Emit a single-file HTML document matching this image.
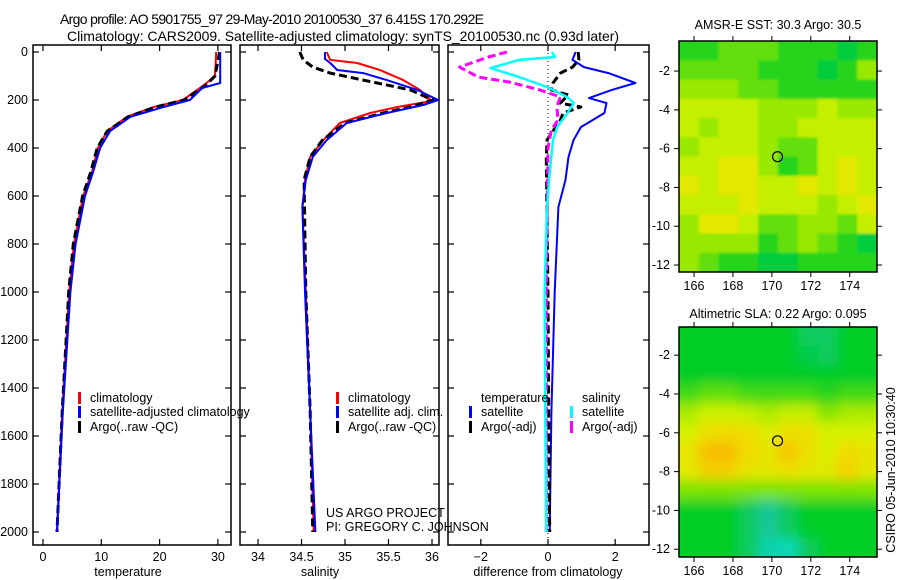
<!DOCTYPE html>
<html><head><meta charset="utf-8"><style>
html,body{margin:0;padding:0;background:#fff}
svg{display:block;font-family:"Liberation Sans",sans-serif}
</style></head><body>
<svg id="c" width="900" height="580" viewBox="0 0 900 580">
<defs>
<clipPath id="cp1"><rect x="33" y="45" width="198" height="500"/></clipPath>
<clipPath id="cp2"><rect x="240" y="45" width="199" height="500"/></clipPath>
<clipPath id="cp3"><rect x="448" y="45" width="201" height="500"/></clipPath>
<clipPath id="cm1"><rect x="679" y="41" width="198" height="231"/></clipPath>
<clipPath id="cm2"><rect x="679" y="327" width="198" height="230"/></clipPath>
<filter id="bl" x="-10%" y="-10%" width="120%" height="120%"><feGaussianBlur stdDeviation="6"/></filter>
<filter id="bl2"><feGaussianBlur stdDeviation="1.2"/></filter>
</defs>
<text x="60" y="24" font-size="14" textLength="424">Argo profile: AO 5901755_97 29-May-2010 20100530_37 6.415S 170.292E</text>
<text x="67" y="41" font-size="14" textLength="552">Climatology: CARS2009. Satellite-adjusted climatology: synTS_20100530.nc (0.93d later)</text>
<g id="root"></g>
</svg>
<script>
// ---------- profile data ----------
const tempClimDepth = [0,100,140,200,230,270,330,400,500,600,800,1000,1500,2000];
const tempClim      = [29.7,29.5,27.5,24.0,18.9,14.4,11.0,9.4,8.4,6.9,5.3,4.5,3.3,2.4];
const tempSatDepth  = [0,129,150,200,230,270,330,400,500,600,800,1000,1500,2000];
const tempSat       = [30.4,30.4,27.3,25.2,20.6,15.0,11.5,9.8,8.6,7.2,5.6,4.7,3.4,2.4];
const tempArgoDepth = [0,100,140,200,230,270,330,400,500,600,800,1000,1500,2000];
const tempArgo      = [30.3,29.5,27.8,24.2,19.2,14.6,11.0,9.3,8.2,6.8,5.2,4.4,3.3,2.4];

const salClimDepth = [0,33,46,75,117,158,192,208,229,254,296,367,437,533,646,1000,1500,2000];
const salClim      = [34.79,34.83,35.14,35.40,35.67,35.86,35.97,35.94,35.60,35.29,34.94,34.75,34.60,34.54,34.51,34.55,34.60,34.64];
const salSatDepth  = [0,29,46,75,88,117,158,200,221,254,296,367,437,533,646,1000,1500,2000];
const salSat       = [34.77,34.77,34.83,34.91,35.21,35.48,35.83,36.07,35.90,35.48,35.02,34.79,34.63,34.55,34.51,34.54,34.60,34.66];
const salArgoDepth = [0,33,63,88,117,158,200,229,254,296,367,437,533,1000,1500,2000];
const salArgo      = [34.48,34.52,34.63,34.83,35.21,35.75,36.01,35.75,35.44,35.00,34.74,34.60,34.53,34.55,34.60,34.63];

const dTSatDepth  = [0,33,63,88,129,158,192,213,254,313,367,437,533,646,1000,1500,2000];
const dTSat       = [0.82,0.73,1.07,1.8,2.6,1.9,1.22,1.74,1.68,0.98,0.76,0.61,0.52,0.31,0.2,0.1,0.05];
const dTArgoDepth = [0,33,63,88,129,158,179,213,229,254,283,367,450,1000,1500,2000];
const dTArgo      = [0.9,0.92,0.73,0.37,0.15,0.1,0.6,0.37,0.98,0.45,0.37,-0.03,-0.05,0.0,0.02,0.05];
const dSSatDepth  = [0,21,33,67,104,146,188,213,254,313,367,504,646,1000,1500,2000];
const dSSat       = [0.12,0.21,-0.86,-1.71,-0.86,-0.03,0.58,0.77,0.58,0.27,0.15,0.05,-0.03,-0.1,-0.08,-0.05];
const dSArgoDepth = [0,21,63,104,125,158,188,213,240,283,325,400,1000,1500,2000];
const dSArgo      = [-1.22,-1.77,-2.63,-2.08,-1.16,-0.24,0.37,0.3,0.27,0.3,0.1,0.0,-0.05,-0.05,-0.05];

const depthTicks = [0,200,400,600,800,1000,1200,1400,1600,1800,2000];
const tempTicks = [0,10,20,30];
const salTicks = [34,34.5,35,35.5,36];
const diffTicks = [-2,0,2];

// ---------- map data ----------
const sstGrid = [
 [1.3,1.3,1.8,1.8,1.8,1.3,1.3,1.3,0.8,1.3],
 [1.8,1.8,1.8,1.8,1.3,1.3,1.3,0.8,1.3,2.3],
 [2.3,2.3,2.3,1.8,1.8,1.3,1.3,1.3,1.3,1.3],
 [2.8,2.8,2.8,2.8,2.3,2.3,2.3,2.8,2.3,2.3],
 [2.8,2.3,2.8,2.8,2.3,2.3,2.8,2.8,2.8,2.8],
 [2.3,2.8,2.8,2.8,2.3,1.8,1.8,2.8,2.8,2.8],
 [2.8,2.8,3.2,3.2,2.3,1.3,1.8,2.8,3.2,2.8],
 [3.2,2.8,3.2,3.2,2.8,2.8,3.2,2.8,3.2,2.8],
 [2.8,2.8,2.8,3.2,2.8,2.8,2.8,2.3,2.8,3.2],
 [2.3,3.2,3.2,2.8,1.8,1.8,2.3,2.3,1.8,2.8],
 [2.3,2.3,2.3,2.3,1.3,1.8,2.3,1.8,1.3,0.8],
 [2.3,1.8,1.3,1.3,0.8,0.8,1.3,1.3,1.3,1.3]];
const slaGrid = [
 [1,1,1,1,1,1,0.5,0.5,1,1],
 [1,1,1,1,1,1,0.7,0.5,1,1],
 [1,1,1,1,1,1,1,1,1,1],
 [1.5,1.8,1.8,1.5,1.5,1.5,1.5,1.3,1.5,1.5],
 [2.5,2.9,2.9,2.8,2.5,2.8,2.8,2.1,2.5,2.5],
 [3,3.4,3.5,3.4,3.1,3.4,3.4,3,3,3],
 [3.3,3.8,3.8,3.5,3.3,3.7,3.4,3,3.5,3.3],
 [3.2,3.6,3.6,3.3,3.2,3.4,3.2,3.2,3.6,3.2],
 [2,2,2,2,2,2,2,2,2,2],
 [1,1,1,0.5,0,0.5,1,1,1,1],
 [1,1,1,0.5,0,0.5,1,1,1,1],
 [1,1,1,0.5,-0.2,-0.3,0.5,1,1,1]];
const lonTicks = [166,168,170,172,174];
const latTicks = [-2,-4,-6,-8,-10,-12];
const argoLon = 170.292, argoLat = -6.415;

// ---------- drawing ----------
const NS='http://www.w3.org/2000/svg';
const root=document.getElementById('root');
function mk(tag,attrs,parent){const e=document.createElementNS(NS,tag);for(const k in attrs)e.setAttribute(k,attrs[k]);(parent||root).appendChild(e);return e;}
const yD = d => 52 + d*0.24;
const xT = v => 43 + v*5.83;
const xS = v => 258 + (v-34)*87;
const xD = v => 548 + v*33.6;

function frame(x0,x1,name){
  const r=mk('rect',{x:x0,y:45,width:x1-x0,height:500,fill:'none',stroke:'#000','stroke-width':1.5});
  
  
  depthTicks.forEach(d=>{
    mk('line',{x1:x0,x2:x0+6,y1:yD(d),y2:yD(d),stroke:'#000','stroke-width':1.2});
    mk('line',{x1:x1-6,x2:x1,y1:yD(d),y2:yD(d),stroke:'#000','stroke-width':1.2});
  });
}
function xticks(ticks,fx,x0,label,labelX,name){
  ticks.forEach(v=>{
    const x=fx(v);
    mk('line',{x1:x,x2:x,y1:45,y2:51,stroke:'#000','stroke-width':1.2});
    mk('line',{x1:x,x2:x,y1:539,y2:545,stroke:'#000','stroke-width':1.2});
    const t=mk('text',{x:x,y:561,'font-size':12.5,'text-anchor':'middle'});
    t.textContent=(v<0?'\u2212'+(-v):String(v));
    
    
  });
  const t=mk('text',{x:labelX,y:576,'font-size':12.5,'text-anchor':'middle'});
  t.textContent=label;
  
  
}
function series(depths,vals,fx,color,w,dash,clip,name){
  const pts=depths.map((d,i)=>fx(vals[i]).toFixed(1)+','+yD(d).toFixed(1)).join(' ');
  const p=mk('polyline',{points:pts,fill:'none',stroke:color,'stroke-width':w,'stroke-dasharray':dash||'none','clip-path':'url(#'+clip+')','stroke-linejoin':'round'});
  
  
}
function legend(x,y,color,text,name){
  const g=mk('g',{});
  
  
  if(color) mk('rect',{x:x,y:y-10,width:3,height:12,fill:color},g);
  const t=mk('text',{x:x+12,y:y,'font-size':12.5},g);
  t.textContent=text;
}

// panel 1 temperature
frame(33,231,'temperature-panel');
depthTicks.forEach(d=>{
  const t=mk('text',{x:28,y:yD(d)+4,'font-size':12.5,'text-anchor':'end'});
  t.textContent=String(d);
  
  
});
xticks(tempTicks,xT,33,'temperature',128,'temperature-axis-title');
series(tempClimDepth,tempClim,xT,'#f00',2,null,'cp1','temp-climatology-line');
series(tempArgoDepth,tempArgo,xT,'#000',3,'8,4','cp1','temp-argo-line');
series(tempSatDepth,tempSat,xT,'#00f',2,null,'cp1','temp-satellite-line');
legend(78,402,'#f00','climatology','legend-climatology');
legend(78,416,'#00f','satellite-adjusted climatology','legend-satellite-adjusted');
legend(78,431,'#000','Argo(..raw -QC)','legend-argo');

// panel 2 salinity
frame(240,439,'salinity-panel');
xticks(salTicks,xS,240,'salinity',320,'salinity-axis-title');
series(salClimDepth,salClim,xS,'#f00',2,null,'cp2','sal-climatology-line');
series(salArgoDepth,salArgo,xS,'#000',3,'8,4','cp2','sal-argo-line');
series(salSatDepth,salSat,xS,'#00f',2,null,'cp2','sal-satellite-line');
legend(336,402,'#f00','climatology','legend-sal-climatology');
legend(336,416,'#00f','satellite adj. clim.','legend-sal-satellite');
legend(336,431,'#000','Argo(..raw -QC)','legend-sal-argo');
[['US ARGO PROJECT',517,'project-credit'],['PI: GREGORY C. JOHNSON',531,'pi-credit']].forEach(a=>{
  const t=mk('text',{x:326,y:a[1],'font-size':12.5});t.textContent=a[0];
  
  
});

// panel 3 difference
frame(448,649,'difference-panel');
mk('line',{x1:xD(0),x2:xD(0),y1:45,y2:545,stroke:'#000','stroke-width':1,'stroke-dasharray':'1,3'});
xticks(diffTicks,xD,448,'difference from climatology',548,'difference-axis-title');
series(dTSatDepth,dTSat,xD,'#00f',2,null,'cp3','diff-temp-satellite-line');
series(dTArgoDepth,dTArgo,xD,'#000',3,'8,4','cp3','diff-temp-argo-line');
series(dSArgoDepth,dSArgo,xD,'#f0f',3,'8,4','cp3','diff-sal-argo-line');
series(dSSatDepth,dSSat,xD,'#0ff',2.5,null,'cp3','diff-sal-satellite-line');
legend(469,402,null,'temperature','legend-temperature-heading');
legend(469,416,'#00f','satellite','legend-diff-temp-satellite');
legend(469,431,'#000','Argo(-adj)','legend-diff-temp-argo');
legend(570,402,null,'salinity','legend-salinity-heading');
legend(570,416,'#0ff','satellite','legend-diff-sal-satellite');
legend(570,431,'#f0f','Argo(-adj)','legend-diff-sal-argo');

// ---------- maps ----------
const stops=[[-0.5,[0,225,205]],[0,[20,200,150]],[1,[0,205,40]],[2,[125,228,0]],[3,[215,242,0]],[3.5,[242,218,0]],[4,[250,170,0]]];
function cmap(v){
  if(v<=stops[0][0])return stops[0][1];
  for(let i=1;i<stops.length;i++){if(v<=stops[i][0]){const a=stops[i-1],b=stops[i];const f=(v-a[0])/(b[0]-a[0]);return a[1].map((c,k)=>Math.round(c+(b[1][k]-c)*f));}}
  return stops[stops.length-1][1];
}
const lon0=165.23,lon1=175.4;
function drawMap(grid,top,bottom,latTop,latBot,clip,blur,name,title,titleY){
  const xL=lon=>679+(lon-lon0)*(198/(lon1-lon0));
  const yL=lat=>top+(latTop-lat)*((bottom-top)/(latTop-latBot));
  const g=mk('g',{'clip-path':'url(#'+clip+')'});
  
  
  const inner=mk('g',{filter:blur?'url(#bl)':'url(#bl2)'},g);
  const rows=grid.length,cols=grid[0].length;
  const cw=198/cols,ch=(bottom-top)/rows;
  mk('rect',{x:669,y:top-10,width:218,height:bottom-top+20,fill:'rgb(0,205,40)'},inner);
  grid.forEach((row,r)=>row.forEach((v,c)=>{
    const cell=mk('rect',{x:(679+c*cw-(c==0?10:0)).toFixed(1),y:(top+r*ch-(r==0?10:0)).toFixed(1),width:(cw+0.6+(c==0||c==cols-1?10:0)).toFixed(1),height:(ch+0.6+(r==0||r==rows-1?10:0)).toFixed(1),fill:'rgb('+cmap(v).join(',')+')'},inner);
    
    
  }));
  mk('rect',{x:679,y:top,width:198,height:bottom-top,fill:'none',stroke:'#000','stroke-width':1.5});
  const circ=mk('circle',{cx:xL(argoLon),cy:yL(argoLat),r:5,fill:'none',stroke:'#000','stroke-width':1.2});
  
  
  lonTicks.forEach(lon=>{
    const x=xL(lon);
    mk('line',{x1:x,x2:x,y1:top-5,y2:top,stroke:'#000'});
    mk('line',{x1:x,x2:x,y1:bottom,y2:bottom+5,stroke:'#000'});
    const t=mk('text',{x:x,y:bottom+18,'font-size':12.5,'text-anchor':'middle'});
    t.textContent=String(lon);
    
    
  });
  latTicks.forEach(lat=>{
    const y=yL(lat);
    mk('line',{x1:674,x2:679,y1:y,y2:y,stroke:'#000'});
    mk('line',{x1:877,x2:882,y1:y,y2:y,stroke:'#000'});
    const t=mk('text',{x:670,y:y+4,'font-size':12.5,'text-anchor':'end'});
    t.textContent=String(lat);
    
    
  });
  const tt=mk('text',{x:778,y:titleY,'font-size':12.5,'text-anchor':'middle'});
  tt.textContent=title;
  
  
}
drawMap(sstGrid,41,272,-0.45,-12.36,'cm1',false,'sst-map','AMSR-E SST: 30.3 Argo: 30.5',29);
drawMap(slaGrid,327,557,-0.55,-12.4,'cm2',true,'sla-map','Altimetric SLA: 0.22 Argo: 0.095',318);
const cs=mk('text',{x:0,y:0,'font-size':12.5,'text-anchor':'middle',transform:'translate(895,470) rotate(-90)'});
cs.textContent='CSIRO 05-Jun-2010 10:30:40';


</script>
</body></html>
